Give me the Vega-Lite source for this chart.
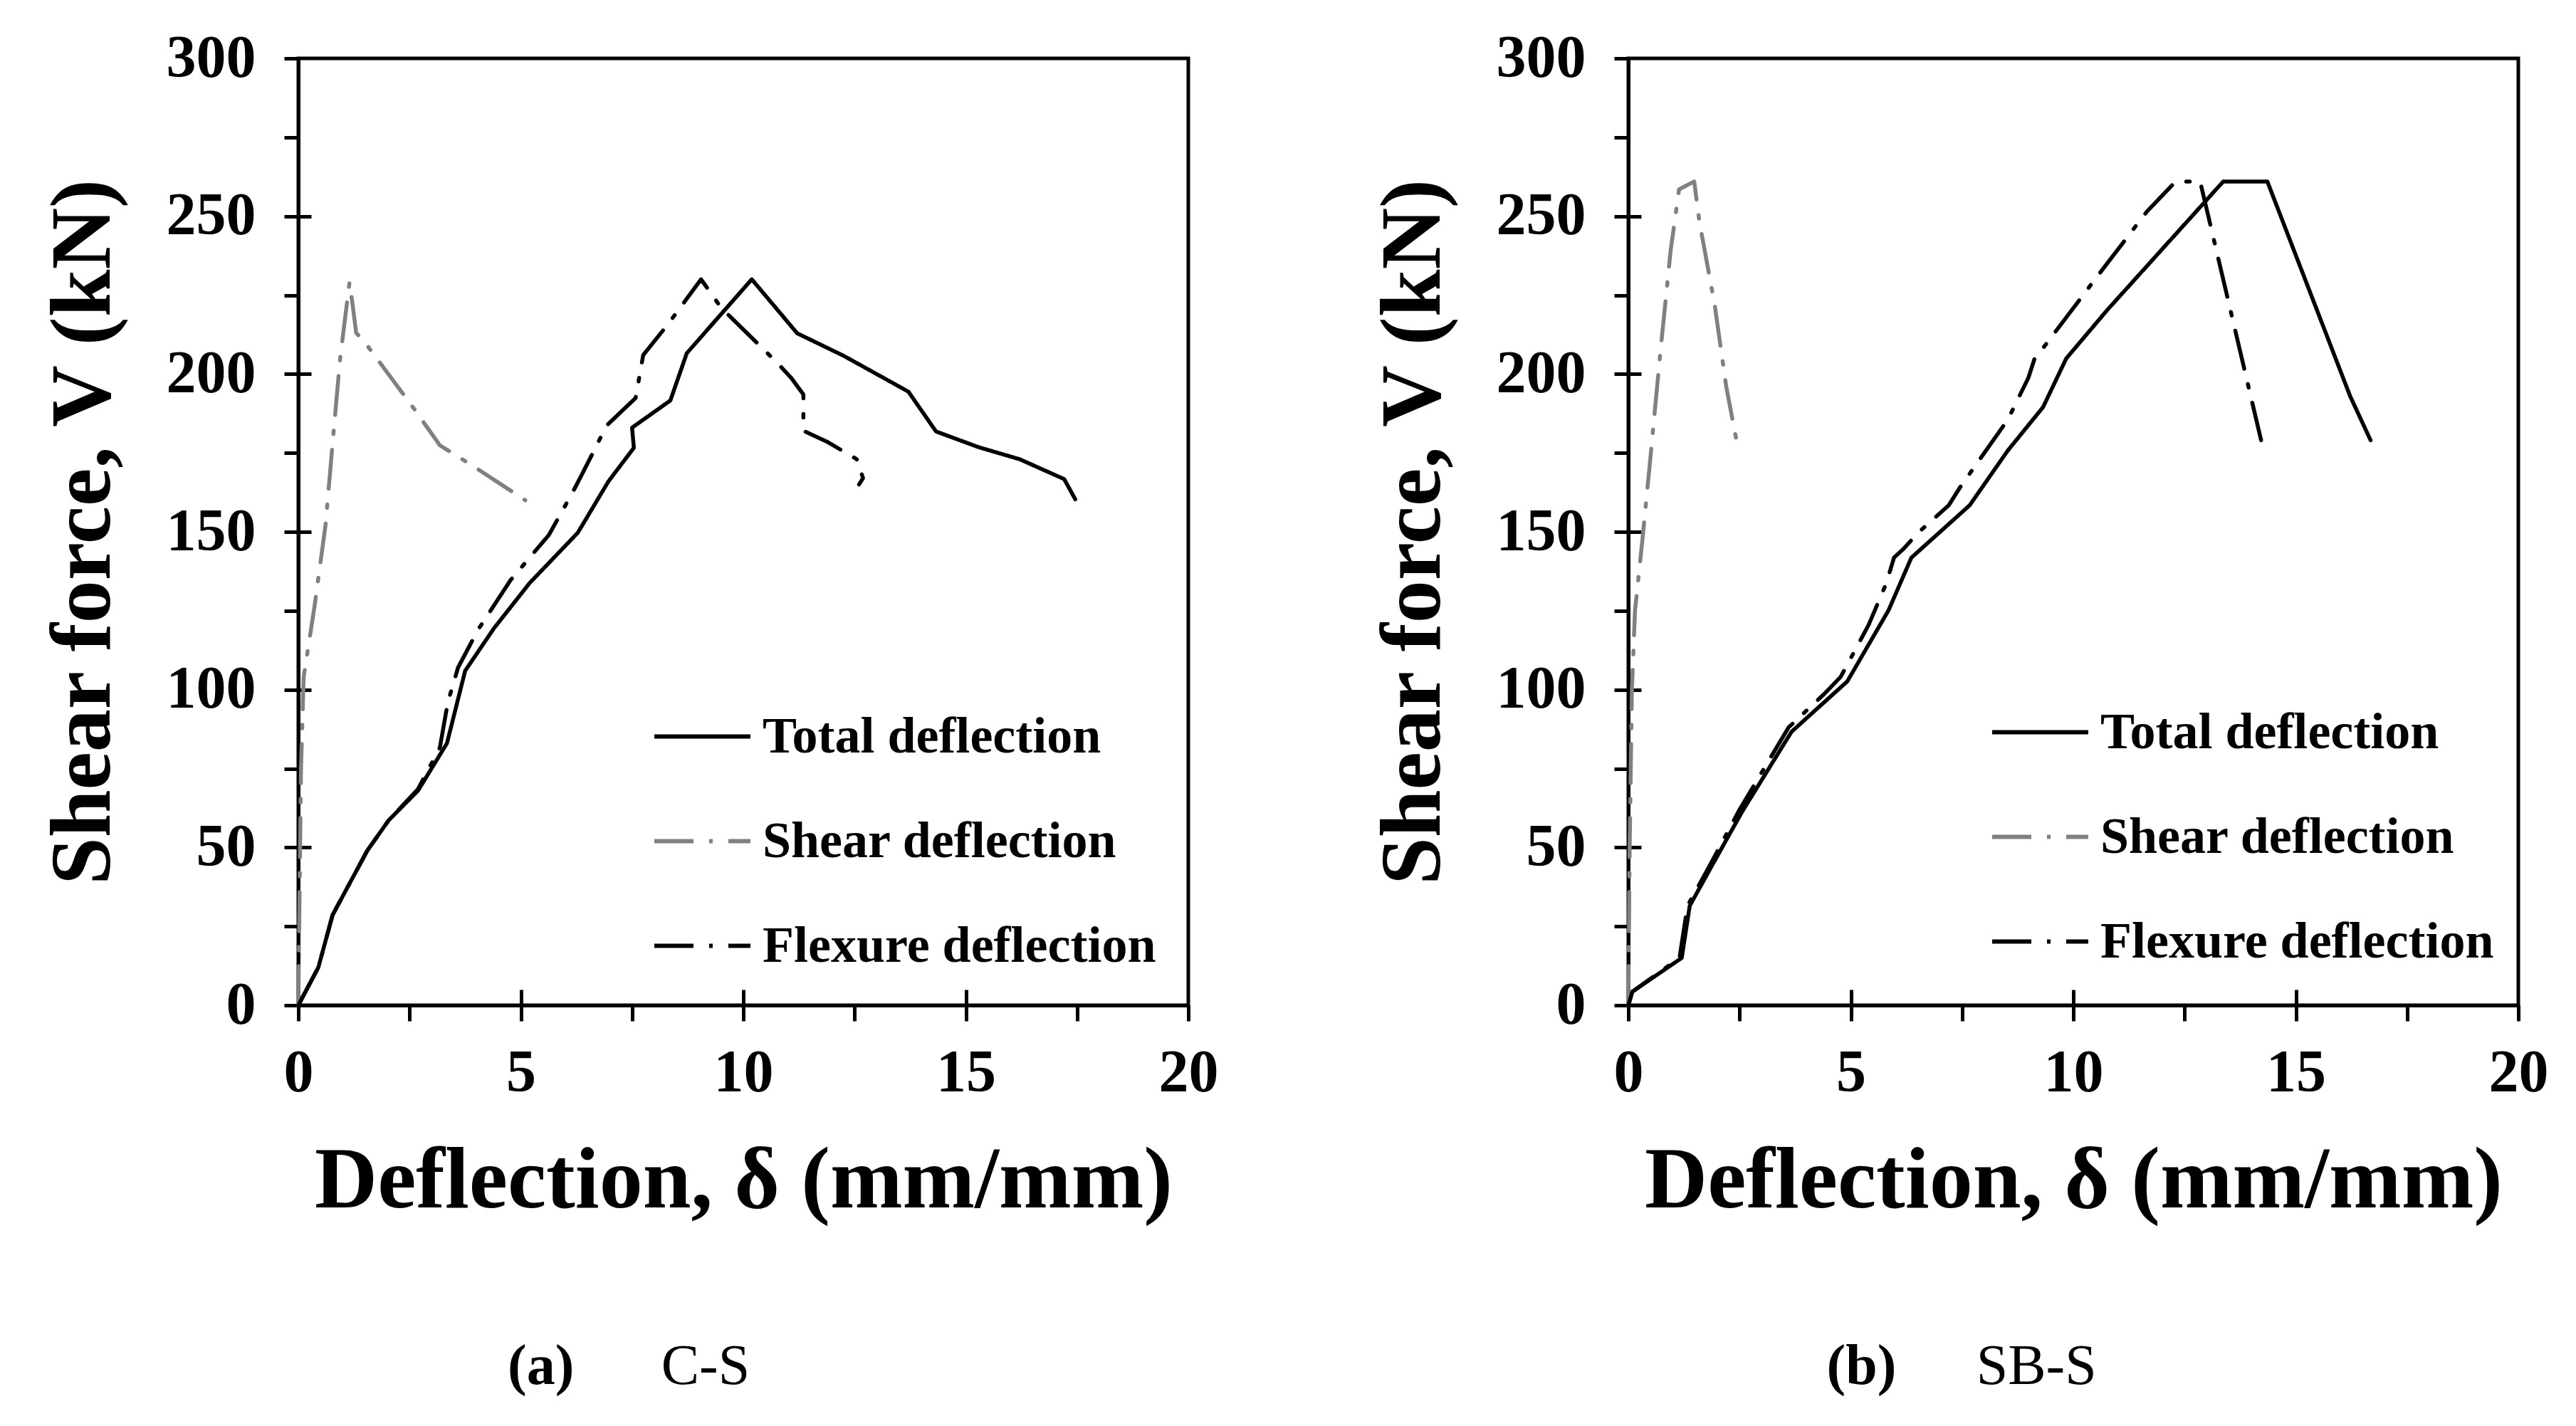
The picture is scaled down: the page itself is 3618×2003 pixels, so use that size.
{
  "$schema": "https://vega.github.io/schema/vega-lite/v6.json",
  "background": "white",
  "padding": {"left": 54, "top": 37, "right": 10, "bottom": 10},
  "spacing": 208,
  "config": {
    "font": "Liberation Serif",
    "view": {"stroke": "black", "strokeWidth": 5},
    "axis": {
      "grid": false,
      "domainColor": "black",
      "domainWidth": 5,
      "tickColor": "black",
      "tickWidth": 5,
      "labelFont": "Liberation Serif",
      "labelFontWeight": "bold",
      "labelColor": "black",
      "titleFont": "Liberation Serif",
      "titleFontWeight": "bold",
      "titleColor": "black",
      "labelFlush": false,
      "labelOverlap": false
    },
    "legend": {
      "orient": "none",
      "title": null,
      "padding": 0,
      "labelFont": "Liberation Serif",
      "labelFontWeight": "bold",
      "labelFontSize": 72,
      "labelColor": "black",
      "labelLimit": 1000,
      "labelOffset": 14,
      "symbolType": "stroke",
      "symbolSize": 18225,
      "symbolStrokeWidth": 6,
      "rowPadding": 40
    }
  },
  "datasets": {
    "curves": [
      {"panel": "a", "series": "Total deflection", "x": 0, "v": 0},
      {"panel": "a", "series": "Total deflection", "x": 0.45, "v": 12},
      {"panel": "a", "series": "Total deflection", "x": 0.77, "v": 28.6},
      {"panel": "a", "series": "Total deflection", "x": 1.55, "v": 49},
      {"panel": "a", "series": "Total deflection", "x": 2.03, "v": 58.6},
      {"panel": "a", "series": "Total deflection", "x": 2.69, "v": 68},
      {"panel": "a", "series": "Total deflection", "x": 3.34, "v": 83},
      {"panel": "a", "series": "Total deflection", "x": 3.75, "v": 106},
      {"panel": "a", "series": "Total deflection", "x": 4.4, "v": 119.5},
      {"panel": "a", "series": "Total deflection", "x": 5.2, "v": 133.8},
      {"panel": "a", "series": "Total deflection", "x": 6.28, "v": 149.7},
      {"panel": "a", "series": "Total deflection", "x": 6.97, "v": 166},
      {"panel": "a", "series": "Total deflection", "x": 7.54, "v": 176.6},
      {"panel": "a", "series": "Total deflection", "x": 7.5, "v": 183},
      {"panel": "a", "series": "Total deflection", "x": 8.36, "v": 191.6},
      {"panel": "a", "series": "Total deflection", "x": 8.73, "v": 206.6},
      {"panel": "a", "series": "Total deflection", "x": 10.19, "v": 230},
      {"panel": "a", "series": "Total deflection", "x": 11.21, "v": 212.9},
      {"panel": "a", "series": "Total deflection", "x": 12.25, "v": 205.8},
      {"panel": "a", "series": "Total deflection", "x": 13.71, "v": 194.4},
      {"panel": "a", "series": "Total deflection", "x": 14.33, "v": 181.8},
      {"panel": "a", "series": "Total deflection", "x": 15.29, "v": 176.8},
      {"panel": "a", "series": "Total deflection", "x": 16.21, "v": 173},
      {"panel": "a", "series": "Total deflection", "x": 17.21, "v": 166.7},
      {"panel": "a", "series": "Total deflection", "x": 17.46, "v": 160.3},

      {"panel": "a", "series": "Shear deflection", "x": 0, "v": 0},
      {"panel": "a", "series": "Shear deflection", "x": 0.02, "v": 25},
      {"panel": "a", "series": "Shear deflection", "x": 0.06, "v": 75},
      {"panel": "a", "series": "Shear deflection", "x": 0.12, "v": 104},
      {"panel": "a", "series": "Shear deflection", "x": 0.36, "v": 126},
      {"panel": "a", "series": "Shear deflection", "x": 0.61, "v": 152},
      {"panel": "a", "series": "Shear deflection", "x": 0.77, "v": 178},
      {"panel": "a", "series": "Shear deflection", "x": 0.94, "v": 205},
      {"panel": "a", "series": "Shear deflection", "x": 1.15, "v": 229},
      {"panel": "a", "series": "Shear deflection", "x": 1.22, "v": 222},
      {"panel": "a", "series": "Shear deflection", "x": 1.3, "v": 213},
      {"panel": "a", "series": "Shear deflection", "x": 1.46, "v": 210.7},
      {"panel": "a", "series": "Shear deflection", "x": 2.6, "v": 189},
      {"panel": "a", "series": "Shear deflection", "x": 3.18, "v": 177.4},
      {"panel": "a", "series": "Shear deflection", "x": 3.91, "v": 171},
      {"panel": "a", "series": "Shear deflection", "x": 5.1, "v": 160},

      {"panel": "a", "series": "Flexure deflection", "x": 0, "v": 0},
      {"panel": "a", "series": "Flexure deflection", "x": 0.45, "v": 12},
      {"panel": "a", "series": "Flexure deflection", "x": 0.77, "v": 28.6},
      {"panel": "a", "series": "Flexure deflection", "x": 1.55, "v": 49},
      {"panel": "a", "series": "Flexure deflection", "x": 2.03, "v": 58.6},
      {"panel": "a", "series": "Flexure deflection", "x": 2.69, "v": 68.5},
      {"panel": "a", "series": "Flexure deflection", "x": 3.18, "v": 81.6},
      {"panel": "a", "series": "Flexure deflection", "x": 3.36, "v": 96},
      {"panel": "a", "series": "Flexure deflection", "x": 3.59, "v": 107},
      {"panel": "a", "series": "Flexure deflection", "x": 4.04, "v": 119},
      {"panel": "a", "series": "Flexure deflection", "x": 4.77, "v": 134.7},
      {"panel": "a", "series": "Flexure deflection", "x": 5.63, "v": 149},
      {"panel": "a", "series": "Flexure deflection", "x": 6.16, "v": 162.4},
      {"panel": "a", "series": "Flexure deflection", "x": 6.36, "v": 167.8},
      {"panel": "a", "series": "Flexure deflection", "x": 6.93, "v": 183.7},
      {"panel": "a", "series": "Flexure deflection", "x": 7.58, "v": 192.4},
      {"panel": "a", "series": "Flexure deflection", "x": 7.75, "v": 206},
      {"panel": "a", "series": "Flexure deflection", "x": 8.32, "v": 216},
      {"panel": "a", "series": "Flexure deflection", "x": 9.05, "v": 230},
      {"panel": "a", "series": "Flexure deflection", "x": 9.5, "v": 221},
      {"panel": "a", "series": "Flexure deflection", "x": 10.73, "v": 204},
      {"panel": "a", "series": "Flexure deflection", "x": 11.08, "v": 198.7},
      {"panel": "a", "series": "Flexure deflection", "x": 11.35, "v": 193.5},
      {"panel": "a", "series": "Flexure deflection", "x": 11.35, "v": 182},
      {"panel": "a", "series": "Flexure deflection", "x": 11.9, "v": 178.4},
      {"panel": "a", "series": "Flexure deflection", "x": 12.55, "v": 173},
      {"panel": "a", "series": "Flexure deflection", "x": 12.69, "v": 167},
      {"panel": "a", "series": "Flexure deflection", "x": 12.6, "v": 165},

      {"panel": "b", "series": "Total deflection", "x": 0, "v": 0},
      {"panel": "b", "series": "Total deflection", "x": 0.09, "v": 4.3},
      {"panel": "b", "series": "Total deflection", "x": 1.2, "v": 15},
      {"panel": "b", "series": "Total deflection", "x": 1.38, "v": 31.5},
      {"panel": "b", "series": "Total deflection", "x": 1.85, "v": 43.5},
      {"panel": "b", "series": "Total deflection", "x": 2.56, "v": 61.4},
      {"panel": "b", "series": "Total deflection", "x": 3.67, "v": 86.7},
      {"panel": "b", "series": "Total deflection", "x": 4.92, "v": 102.6},
      {"panel": "b", "series": "Total deflection", "x": 5.85, "v": 125.2},
      {"panel": "b", "series": "Total deflection", "x": 6.36, "v": 141.8},
      {"panel": "b", "series": "Total deflection", "x": 7.67, "v": 158.4},
      {"panel": "b", "series": "Total deflection", "x": 8.53, "v": 175.8},
      {"panel": "b", "series": "Total deflection", "x": 9.32, "v": 189.5},
      {"panel": "b", "series": "Total deflection", "x": 9.84, "v": 204.9},
      {"panel": "b", "series": "Total deflection", "x": 10.77, "v": 220.4},
      {"panel": "b", "series": "Total deflection", "x": 13.37, "v": 261},
      {"panel": "b", "series": "Total deflection", "x": 14.36, "v": 261},
      {"panel": "b", "series": "Total deflection", "x": 16.22, "v": 193},
      {"panel": "b", "series": "Total deflection", "x": 16.68, "v": 179},

      {"panel": "b", "series": "Shear deflection", "x": 0, "v": 0},
      {"panel": "b", "series": "Shear deflection", "x": 0.03, "v": 50},
      {"panel": "b", "series": "Shear deflection", "x": 0.08, "v": 100},
      {"panel": "b", "series": "Shear deflection", "x": 0.15, "v": 125},
      {"panel": "b", "series": "Shear deflection", "x": 0.32, "v": 148},
      {"panel": "b", "series": "Shear deflection", "x": 0.5, "v": 174},
      {"panel": "b", "series": "Shear deflection", "x": 0.72, "v": 207},
      {"panel": "b", "series": "Shear deflection", "x": 0.95, "v": 239},
      {"panel": "b", "series": "Shear deflection", "x": 1.14, "v": 258.5},
      {"panel": "b", "series": "Shear deflection", "x": 1.48, "v": 261},
      {"panel": "b", "series": "Shear deflection", "x": 1.6, "v": 248},
      {"panel": "b", "series": "Shear deflection", "x": 1.94, "v": 222},
      {"panel": "b", "series": "Shear deflection", "x": 2.2, "v": 196},
      {"panel": "b", "series": "Shear deflection", "x": 2.43, "v": 179},

      {"panel": "b", "series": "Flexure deflection", "x": 0, "v": 0},
      {"panel": "b", "series": "Flexure deflection", "x": 0.09, "v": 4.3},
      {"panel": "b", "series": "Flexure deflection", "x": 1.15, "v": 15},
      {"panel": "b", "series": "Flexure deflection", "x": 1.33, "v": 31.5},
      {"panel": "b", "series": "Flexure deflection", "x": 1.8, "v": 43.5},
      {"panel": "b", "series": "Flexure deflection", "x": 2.5, "v": 62},
      {"panel": "b", "series": "Flexure deflection", "x": 3.6, "v": 88},
      {"panel": "b", "series": "Flexure deflection", "x": 4.4, "v": 98.6},
      {"panel": "b", "series": "Flexure deflection", "x": 4.77, "v": 104},
      {"panel": "b", "series": "Flexure deflection", "x": 5.4, "v": 120.5},
      {"panel": "b", "series": "Flexure deflection", "x": 5.8, "v": 133.8},
      {"panel": "b", "series": "Flexure deflection", "x": 5.97, "v": 141.8},
      {"panel": "b", "series": "Flexure deflection", "x": 6.17, "v": 144.4},
      {"panel": "b", "series": "Flexure deflection", "x": 6.52, "v": 149.8},
      {"panel": "b", "series": "Flexure deflection", "x": 7.2, "v": 158.4},
      {"panel": "b", "series": "Flexure deflection", "x": 7.45, "v": 164},
      {"panel": "b", "series": "Flexure deflection", "x": 8.53, "v": 185.6},
      {"panel": "b", "series": "Flexure deflection", "x": 8.99, "v": 198.8},
      {"panel": "b", "series": "Flexure deflection", "x": 9.13, "v": 204.9},
      {"panel": "b", "series": "Flexure deflection", "x": 9.39, "v": 209.5},
      {"panel": "b", "series": "Flexure deflection", "x": 10.52, "v": 230.6},
      {"panel": "b", "series": "Flexure deflection", "x": 11.65, "v": 251.4},
      {"panel": "b", "series": "Flexure deflection", "x": 12.3, "v": 261},
      {"panel": "b", "series": "Flexure deflection", "x": 12.85, "v": 261},
      {"panel": "b", "series": "Flexure deflection", "x": 14.22, "v": 179}
    ]
  },
  "hconcat": [
    {
      "width": 1250,
      "height": 1330,
      "resolve": {"axis": {"x": "independent", "y": "independent"}},
      "layer": [
        {
          "data": {"name": "curves"},
          "transform": [{"filter": "datum.panel == 'a'"}],
          "mark": {"type": "line", "strokeWidth": 5.5, "strokeCap": "round", "strokeJoin": "round"},
          "encoding": {
            "x": {
              "field": "x", "type": "quantitative",
              "scale": {"domain": [0, 20], "nice": false},
              "axis": {
                "orient": "bottom",
                "title": "Deflection, δ (mm/mm)",
                "titleFontSize": 122, "titlePadding": 50,
                "values": [0, 2.5, 5, 7.5, 10, 12.5, 15, 17.5, 20],
                "labelExpr": "datum.value % 5 == 0 ? datum.label : ''",
                "labelFontSize": 84, "labelPadding": 32, "tickSize": 22
              }
            },
            "y": {
              "field": "v", "type": "quantitative",
              "scale": {"domain": [0, 300], "nice": false},
              "axis": {
                "orient": "left",
                "title": "Shear force, V (kN)",
                "titleFontSize": 120, "titlePadding": 55,
                "values": [0, 25, 50, 75, 100, 125, 150, 175, 200, 225, 250, 275, 300],
                "labelExpr": "datum.value % 50 == 0 ? datum.label : ''",
                "labelFontSize": 84, "labelPadding": 40, "tickSize": 20
              }
            },
            "color": {
              "field": "series", "type": "nominal",
              "scale": {"domain": ["Total deflection", "Shear deflection", "Flexure deflection"], "range": ["#000000", "#808080", "#000000"]},
              "legend": {"legendX": 497, "legendY": 882}
            },
            "strokeDash": {
              "field": "series", "type": "nominal",
              "scale": {"domain": ["Total deflection", "Shear deflection", "Flexure deflection"], "range": [[1, 0], [55, 22, 5, 22], [55, 22, 5, 22]]},
              "legend": {"legendX": 497, "legendY": 882}
            },
            "order": {"value": null}
          }
        },
        {
          "data": {"values": [{"cap": "(a)"}]},
          "mark": {"type": "text", "font": "Liberation Serif", "fontWeight": "bold", "fontSize": 80, "color": "black"},
          "encoding": {
            "x": {"datum": 5.45, "type": "quantitative", "axis": {"orient": "bottom", "values": [5, 10, 15], "labels": false, "domain": false, "title": null, "tickSize": -22}},
            "y": {"datum": -114.5, "type": "quantitative", "axis": {"orient": "left", "values": [50, 100, 150, 200, 250], "labels": false, "domain": false, "title": null, "tickSize": -18}},
            "text": {"field": "cap"}
          }
        },
        {
          "data": {"values": [{"cap": "C-S"}]},
          "mark": {"type": "text", "font": "Liberation Serif", "fontSize": 80, "color": "black"},
          "encoding": {
            "x": {"datum": 9.15, "type": "quantitative", "axis": null},
            "y": {"datum": -114.5, "type": "quantitative", "axis": null},
            "text": {"field": "cap"}
          }
        }
      ]
    },
    {
      "width": 1250,
      "height": 1330,
      "resolve": {"axis": {"x": "independent", "y": "independent"}},
      "layer": [
        {
          "data": {"name": "curves"},
          "transform": [{"filter": "datum.panel == 'b'"}],
          "mark": {"type": "line", "strokeWidth": 5.5, "strokeCap": "round", "strokeJoin": "round"},
          "encoding": {
            "x": {
              "field": "x", "type": "quantitative",
              "scale": {"domain": [0, 20], "nice": false},
              "axis": {
                "orient": "bottom",
                "title": "Deflection, δ (mm/mm)",
                "titleFontSize": 122, "titlePadding": 50,
                "values": [0, 2.5, 5, 7.5, 10, 12.5, 15, 17.5, 20],
                "labelExpr": "datum.value % 5 == 0 ? datum.label : ''",
                "labelFontSize": 84, "labelPadding": 32, "tickSize": 22
              }
            },
            "y": {
              "field": "v", "type": "quantitative",
              "scale": {"domain": [0, 300], "nice": false},
              "axis": {
                "orient": "left",
                "title": "Shear force, V (kN)",
                "titleFontSize": 120, "titlePadding": 55,
                "values": [0, 25, 50, 75, 100, 125, 150, 175, 200, 225, 250, 275, 300],
                "labelExpr": "datum.value % 50 == 0 ? datum.label : ''",
                "labelFontSize": 84, "labelPadding": 40, "tickSize": 20
              }
            },
            "color": {
              "field": "series", "type": "nominal",
              "scale": {"domain": ["Total deflection", "Shear deflection", "Flexure deflection"], "range": ["#000000", "#808080", "#000000"]},
              "legend": {"legendX": 508, "legendY": 876}
            },
            "strokeDash": {
              "field": "series", "type": "nominal",
              "scale": {"domain": ["Total deflection", "Shear deflection", "Flexure deflection"], "range": [[1, 0], [55, 22, 5, 22], [55, 22, 5, 22]]},
              "legend": {"legendX": 508, "legendY": 876}
            },
            "order": {"value": null}
          }
        },
        {
          "data": {"values": [{"cap": "(b)"}]},
          "mark": {"type": "text", "font": "Liberation Serif", "fontWeight": "bold", "fontSize": 80, "color": "black"},
          "encoding": {
            "x": {"datum": 5.24, "type": "quantitative", "axis": {"orient": "bottom", "values": [5, 10, 15], "labels": false, "domain": false, "title": null, "tickSize": -22}},
            "y": {"datum": -114.5, "type": "quantitative", "axis": {"orient": "left", "values": [50, 100, 150, 200, 250], "labels": false, "domain": false, "title": null, "tickSize": -18}},
            "text": {"field": "cap"}
          }
        },
        {
          "data": {"values": [{"cap": "SB-S"}]},
          "mark": {"type": "text", "font": "Liberation Serif", "fontSize": 80, "color": "black"},
          "encoding": {
            "x": {"datum": 9.17, "type": "quantitative", "axis": null},
            "y": {"datum": -114.5, "type": "quantitative", "axis": null},
            "text": {"field": "cap"}
          }
        }
      ]
    }
  ],
  "resolve": {
    "scale": {"color": "independent", "strokeDash": "independent"},
    "legend": {"color": "independent", "strokeDash": "independent"}
  }
}
